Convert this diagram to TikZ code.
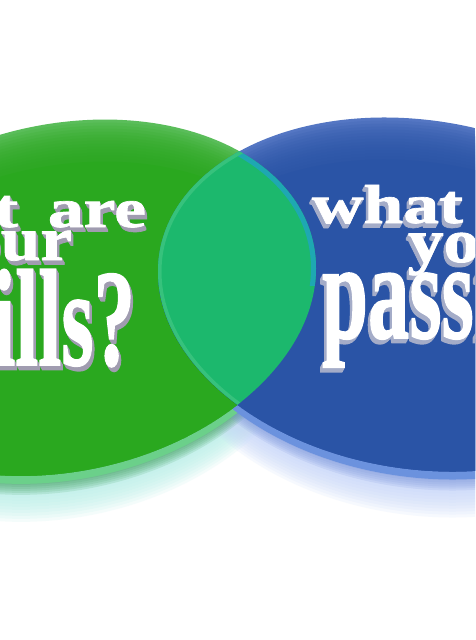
\documentclass[tikz,border=0pt]{standalone}
\usepackage{graphicx}
\usepackage{fontspec}
\setmainfont{Liberation Serif}
\newfontfamily\heavyfont[FakeBold=1.2]{Liberation Serif Bold}
\definecolor{gface}{HTML}{2AA81F}
\definecolor{glight}{HTML}{5ABD5A}
\definecolor{grim}{HTML}{6BD08A}
\definecolor{gglow}{HTML}{B8F0E8}
\definecolor{gshad}{HTML}{3E9E5A}
\definecolor{bface}{HTML}{2A54A6}
\definecolor{blight}{HTML}{5476C3}
\definecolor{brim}{HTML}{6B92DE}
\definecolor{bglow}{HTML}{C6D6FA}
\definecolor{bshad}{HTML}{7C96DA}
\definecolor{lensc}{HTML}{1CB86D}
\definecolor{lensedge}{HTML}{1EA8B2}
\definecolor{lenslite}{HTML}{36C27C}
\definecolor{extg}{HTML}{A09CB0}
\definecolor{extb}{HTML}{A4ACC8}
\tikzset{
  Lgeo/.style={shift={(63,297.7)}, yslant=0.116},
  Rgeo/.style={shift={(418.5,294.5)}, yslant=-0.088},
  Lpath/.style={insert path={(0,0) ellipse [x radius=253pt, y radius=175.7pt]}},
  Rpath/.style={insert path={(0,0) ellipse [x radius=260.5pt, y radius=175.5pt]}},
  txt/.style={inner sep=0pt, outer sep=0pt},
}
\newcommand\etext[6]{%
  \foreach \k in {5,4,3,2,1}{%
    \node[txt, anchor=#3, text=#5, xshift={#4*\k*0.5pt}, yshift={-\k*0.9pt}] (#1-\k) at #2 {#6};}
  \node[txt, anchor=#3, text=white] (#1) at #2 {#6};
}
\begin{document}
\begin{tikzpicture}[x=1pt, y=-1pt]
\useasboundingbox (0,0) rectangle (475,640);
\fill[white] (0,0) rectangle (475,640);
\clip (0,0) rectangle (475,640);
% soft glow / shadow under the discs
\foreach \d in {16,19,...,46} {\path[fill=gglow, fill opacity=0.14, yshift={-\d*1pt}, Lgeo, Lpath];}
\foreach \d in {16,19,...,48} {\path[fill=bglow, fill opacity=0.14, yshift={-\d*1pt}, Rgeo, Rpath];}
\foreach \d in {9,11,...,19} {\path[fill=gshad, fill opacity=0.14, yshift={-\d*1pt}, Lgeo, Lpath];}
\foreach \d in {9,11,...,19} {\path[fill=bshad, fill opacity=0.14, yshift={-\d*1pt}, Rgeo, Rpath];}
% rims
\path[fill=grim, yshift=-8pt, Lgeo, Lpath];
\path[fill=brim, yshift=-8pt, Rgeo, Rpath];
% green face
\begin{scope}
  \clip[Lgeo, Lpath];
  \fill[glight] (0,0) rectangle (475,640);
  \foreach \d in {3,6,...,39} {\path[fill=gface, fill opacity=0.14, yshift={-\d*1pt}, Lgeo, Lpath];}
  \path[fill=gface, yshift=-42pt, Lgeo, Lpath];
\end{scope}
% blue face
\begin{scope}
  \clip[Rgeo, Rpath];
  \fill[blight] (0,0) rectangle (475,640);
  \foreach \d in {3,6,...,39} {\path[fill=bface, fill opacity=0.14, yshift={-\d*1pt}, Rgeo, Rpath];}
  \path[fill=bface, yshift=-42pt, Rgeo, Rpath];
\end{scope}
% lens
\begin{scope}
  \clip[Lgeo, Lpath];
  \clip[Rgeo, Rpath];
  \fill[lensc] (0,0) rectangle (475,640);
  \begin{scope}
    \clip (0,0) rectangle (475,285);
    \path[draw=lensedge, line width=10pt, Lgeo, Lpath];
  \end{scope}
  \path[draw=lenslite, line width=7pt, Rgeo, Rpath];
\end{scope}
% texts
\etext{t1}{(146,227)}{base east}{1}{extg}{\scalebox{1.3}[1]{\fontsize{55}{60}\selectfont\heavyfont what\hspace{0.42em}are}}
\etext{t2}{(72,260)}{base east}{1}{extg}{\scalebox{1.15}[1]{\fontsize{62}{66}\selectfont\heavyfont your}}
\etext{t3}{(135,365)}{base east}{1}{extg}{\scalebox{0.6}[1]{\fontsize{138}{140}\selectfont\heavyfont skills?}}
\etext{t4}{(312,223)}{base west}{-1}{extb}{\scalebox{1.3}[1]{\fontsize{55}{60}\selectfont\heavyfont what\hspace{0.42em}are}}
\etext{t5}{(408,262)}{base west}{-1}{extb}{\scalebox{1.15}[1]{\fontsize{62}{66}\selectfont\heavyfont your}}
\etext{t6}{(322,338)}{base west}{-1}{extb}{\scalebox{0.6}[1]{\fontsize{138}{140}\selectfont\heavyfont passion?}}
\end{tikzpicture}
\end{document}
